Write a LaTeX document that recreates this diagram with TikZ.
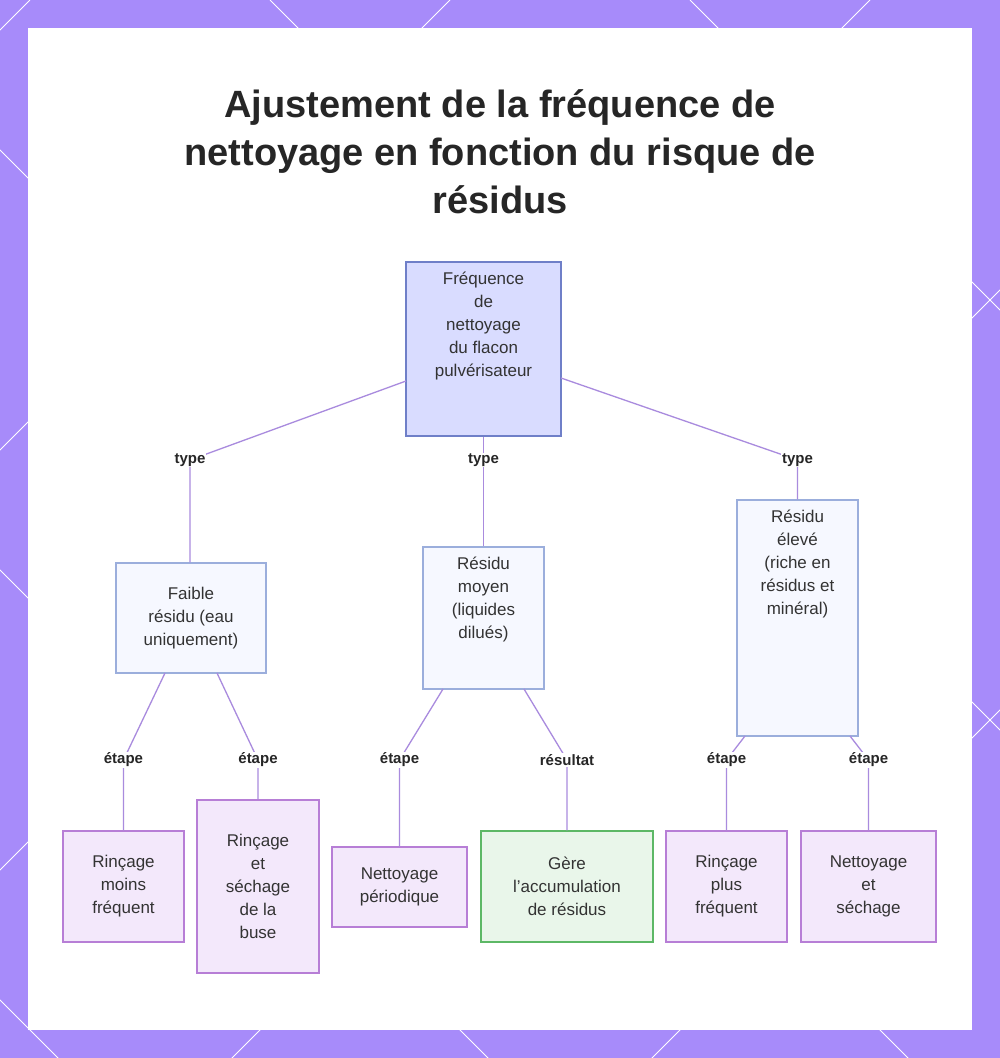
\documentclass[tikz,border=0pt]{standalone}
\usepackage{fontspec}
\setmainfont{Liberation Sans}
\definecolor{frame}{HTML}{A78BFA}
\definecolor{edgec}{HTML}{A98BDE}
\definecolor{rootf}{HTML}{D9DCFF}
\definecolor{rootd}{HTML}{6F7FC8}
\definecolor{midf}{HTML}{F6F8FF}
\definecolor{midd}{HTML}{9BAEDC}
\definecolor{leaff}{HTML}{F3E8FB}
\definecolor{leafd}{HTML}{B77ED6}
\definecolor{resf}{HTML}{E9F6EA}
\definecolor{resd}{HTML}{5DB866}
\begin{document}
\begin{tikzpicture}[x=1pt,y=-1pt,
  box/.style={draw, line width=1.2pt, align=center, inner sep=0pt, font=\fontsize{17}{23}\selectfont, text=black!80},
  root/.style={box, fill=rootf, draw=rootd},
  mid/.style={box, fill=midf, draw=midd},
  leaf/.style={box, fill=leaff, draw=leafd},
  res/.style={box, fill=resf, draw=resd},
  edge/.style={draw=edgec, line width=1.3pt},
  lab/.style={font=\bfseries\fontsize{15}{18}\selectfont, fill=white, inner sep=1pt, text=black!85}]
\useasboundingbox (0,0) rectangle (1000,1058);
\fill[frame] (0,0) rectangle (1000,1058);
\begin{scope}[even odd rule]
\clip (0,0) rectangle (1000,1058) (28,28) rectangle (972,1030);
\foreach \c in {-1000,-570,-150,270,690,1110} {
  \draw[white, line width=1pt] (\c,0) -- ++(1100,1100);
  \draw[white, line width=1pt] (\c+600,0) -- ++(-1100,1100);}
\end{scope}
\fill[white] (28,28) rectangle (972,1030);
\node[font=\bfseries\fontsize{38}{48}\selectfont, align=center, text=black!85] (title) at (500,152) {Ajustement de la fréquence de\\nettoyage en fonction du risque de\\résidus};
\node[root, minimum width=155, minimum height=174, text depth=0pt] (r) at (483.5,349) {};
\node[align=center, font=\fontsize{17}{23}\selectfont, text=black!80, anchor=north] at (483.5,268) {Fréquence\\de\\nettoyage\\du flacon\\pulvérisateur};
\node[mid, minimum width=150, minimum height=110] (a) at (191,618) {Faible\\résidu (eau\\uniquement)};
\node[mid, minimum width=121, minimum height=142] (b) at (483.5,618) {};
\node[align=center, font=\fontsize{17}{23}\selectfont, text=black!80, anchor=north] at (483.5,553) {Résidu\\moyen\\(liquides\\dilués)};
\node[mid, minimum width=121, minimum height=236] (c) at (797.5,618) {};
\node[align=center, font=\fontsize{17}{23}\selectfont, text=black!80, anchor=north] at (797.5,506) {Résidu\\élevé\\(riche en\\résidus et\\minéral)};
\node[leaf, minimum width=121, minimum height=111] (l1) at (123.5,886.5) {Rinçage\\moins\\fréquent};
\node[leaf, minimum width=122, minimum height=173] (l2) at (258,886.5) {Rinçage\\et\\séchage\\de la\\buse};
\node[leaf, minimum width=135, minimum height=80] (m1) at (399.5,887) {Nettoyage\\périodique};
\node[res, minimum width=172, minimum height=111] (m2) at (567,886.5) {Gère\\l'accumulation\\de résidus};
\node[leaf, minimum width=121, minimum height=111] (r1) at (726.5,886.5) {Rinçage\\plus\\fréquent};
\node[leaf, minimum width=135, minimum height=111] (r2) at (868.5,886.5) {Nettoyage\\et\\séchage};
\coordinate (ka) at (190,460); \coordinate (kb) at (483.5,460); \coordinate (kc) at (797.5,460);
\draw[edge] (406,381) -- (ka) -- (a.north-|ka);
\draw[edge] (r.south) -- (b.north);
\draw[edge] (561,378) -- (kc) -- (c.north);
\coordinate (k1) at (123.5,760); \coordinate (k2) at (258,760);
\coordinate (k3) at (399.5,760); \coordinate (k4) at (567,760);
\coordinate (k5) at (726.5,760); \coordinate (k6) at (868.5,760);
\draw[edge] (165,673) -- (k1) -- (l1.north);
\draw[edge] (217,673) -- (k2) -- (l2.north);
\draw[edge] (443,689) -- (k3) -- (m1.north);
\draw[edge] (524,689) -- (k4) -- (m2.north);
\draw[edge] (745,736) -- (k5) -- (r1.north);
\draw[edge] (850,736) -- (k6) -- (r2.north);
\node[lab] at (ka) {type}; \node[lab] at (kb) {type}; \node[lab] at (kc) {type};
\node[lab] at (k1) {étape}; \node[lab] at (k2) {étape}; \node[lab] at (k3) {étape};
\node[lab] at (k4) {résultat}; \node[lab] at (k5) {étape}; \node[lab] at (k6) {étape};
\end{tikzpicture}
\end{document}
